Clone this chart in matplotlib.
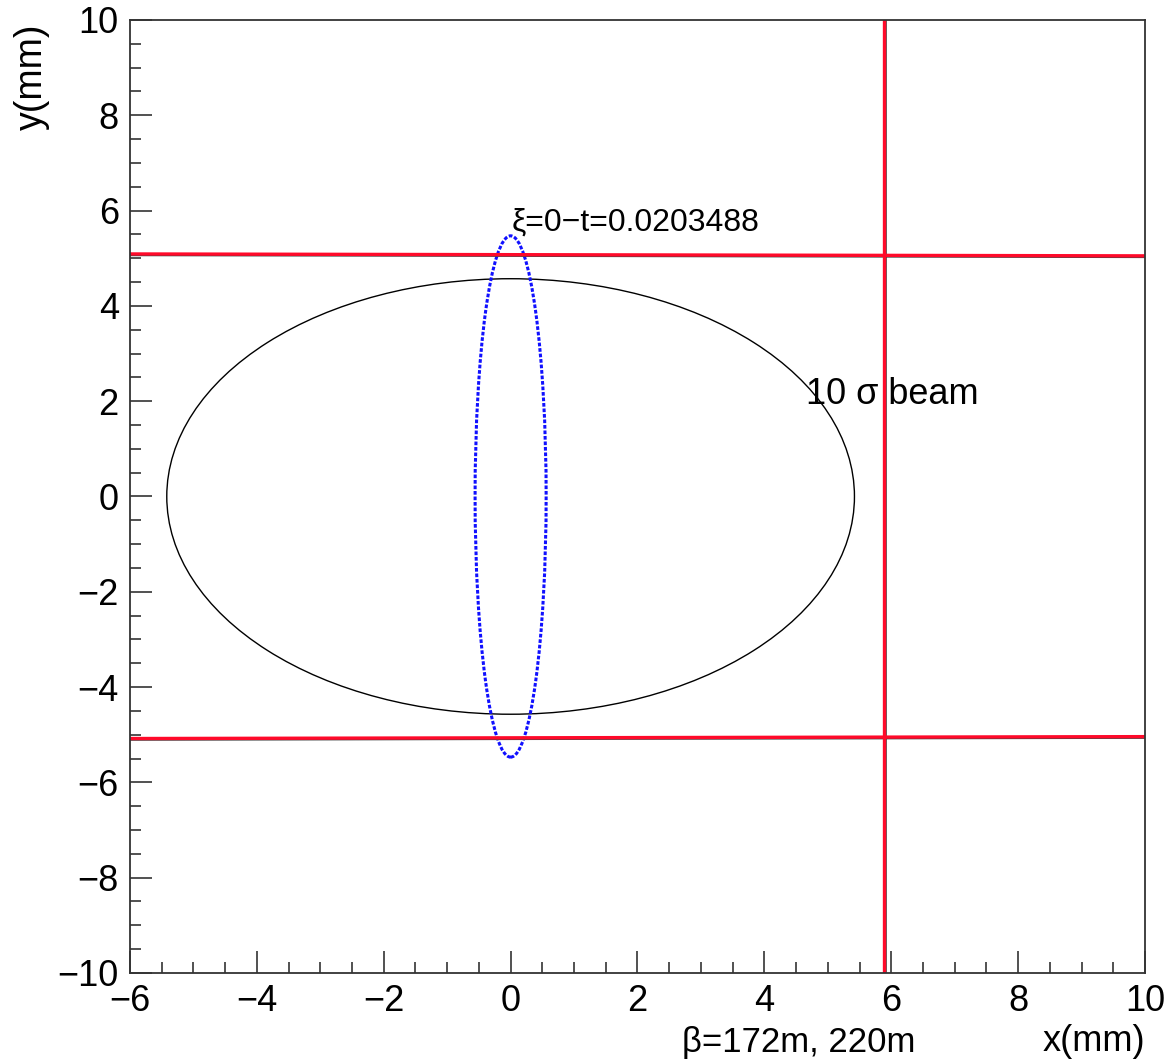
import numpy as np
import matplotlib
matplotlib.use('Agg')
from matplotlib import pyplot as plt
from matplotlib.patches import Ellipse
from matplotlib.ticker import MultipleLocator

plt.rcParams['font.family'] = ['Liberation Sans', 'DejaVu Sans']

# 坐标范围 (mm)
x_lim = [-6, 10]
y_lim = [-10, 10]

# 10 sigma 束流包络 (半轴, mm)
beam_half = [5.42, 4.57]
# xi=0 时 t=0.0203488 的粒子椭圆 (半轴, mm)
particle_half = [0.56, 5.47]

# 孔径边界 (mm)
aperture_x = 5.88
aperture_top = [5.09, 5.05]      # 左端, 右端
aperture_bottom = [-5.08, -5.04]

fig = plt.figure(figsize=(11.71, 10.63), dpi=100)
ax = fig.add_axes([0.111, 0.0847, 0.8668, 0.8965])
ax.set_xlim(x_lim)
ax.set_ylim(y_lim)

# 束流包络
ax.add_patch(Ellipse((0, 0), 2 * beam_half[0], 2 * beam_half[1],
                     fill=False, edgecolor='black', linewidth=1.0))
# 粒子椭圆, 点状
ax.add_patch(Ellipse((0, 0), 2 * particle_half[0], 2 * particle_half[1],
                     fill=False, edgecolor='#1010ff', linewidth=2.2,
                     linestyle=(0, (1.2, 0.6))))

# 孔径线: 灰色底线 + 红线
ax.plot(x_lim, [v - 0.03 for v in aperture_top], color='#444444', lw=1.2)
ax.plot(x_lim, [v - 0.03 for v in aperture_bottom], color='#444444', lw=1.2)
ax.plot([aperture_x + 0.04] * 2, y_lim, color='#444444', lw=1.2)
ax.plot(x_lim, aperture_top, color='#ff0a2a', lw=2.4)
ax.plot(x_lim, aperture_bottom, color='#ff0a2a', lw=2.4)
ax.plot([aperture_x] * 2, y_lim, color='#ff0a2a', lw=2.4)

ax.text(0.02, 5.59, '\u03be=0\u2212t=0.0203488', fontsize=23,
        ha='left', va='baseline')
ax.text(4.66, 1.94, '10 \u03c3 beam', fontsize=26, ha='left', va='baseline')

# 坐标轴样式
ax.xaxis.set_major_locator(MultipleLocator(2))
ax.xaxis.set_minor_locator(MultipleLocator(0.5))
ax.yaxis.set_major_locator(MultipleLocator(2))
ax.yaxis.set_minor_locator(MultipleLocator(0.5))
ax.tick_params(which='both', direction='in', top=False, right=False,
               color='#333333', width=1.2, labelsize=26)
ax.tick_params(which='major', length=16, pad=8)
ax.tick_params(which='minor', length=8)
for s in ax.spines.values():
    s.set_color('#333333')
    s.set_linewidth(1.3)

fig.text(0.9778, 0.004, 'x(mm)', fontsize=26, ha='right', va='bottom')
fig.text(0.782, 0.004, '\u03b2=172m, 220m', fontsize=25,
         ha='right', va='bottom')
fig.text(0.012, 0.978, 'y(mm)', fontsize=27, rotation=90,
         ha='left', va='top')

plt.savefig('out.png', dpi=100)
